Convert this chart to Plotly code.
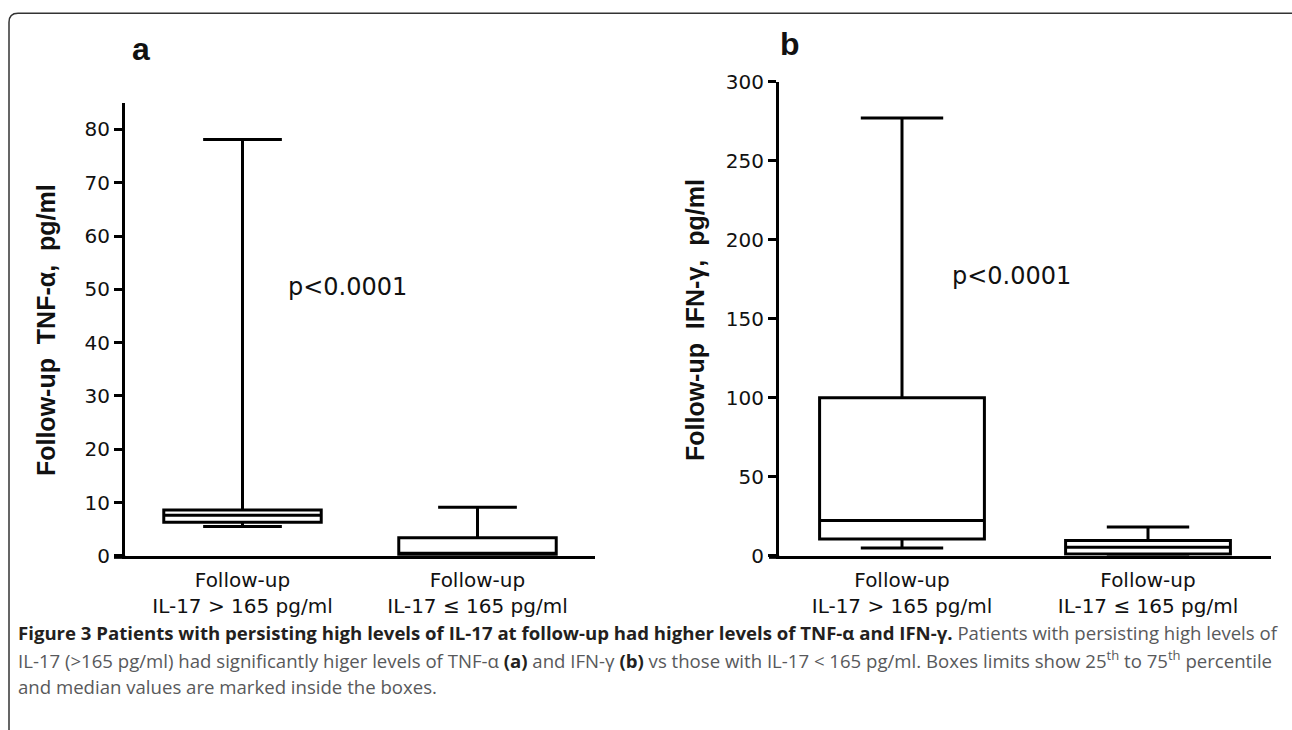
import plotly.graph_objects as go

W, H = 1292, 730

# ---- data ----
categories = ["Follow-up<br>IL-17 > 165 pg/ml", "Follow-up<br>IL-17 \u2264 165 pg/ml"]
tnf_lower = [5.5, 0.0]
tnf_q1 = [6.3, 0.2]
tnf_median = [7.6, 0.5]
tnf_q3 = [8.6, 3.4]
tnf_upper = [78.1, 9.1]

ifn_lower = [5.0, 0.5]
ifn_q1 = [10.7, 1.2]
ifn_median = [22.3, 5.5]
ifn_q3 = [100.0, 9.7]
ifn_upper = [277.0, 18.3]

tnf_ticks = [0, 10, 20, 30, 40, 50, 60, 70, 80]
ifn_ticks = [0, 50, 100, 150, 200, 250, 300]
p_text = "p<0.0001"

# vertical placement correction (page is photographed slightly squeezed)
OFF, SC = 12.3, 0.966


def px(x):
    return x / W


def py(y):
    """target picture y (px from top) -> paper fraction"""
    return 1 - ((y - OFF) / SC) / H


fig = go.Figure()
xpos = [0, 1]
box_style = dict(fillcolor="white", line=dict(color="black", width=3),
                 width=0.67, whiskerwidth=0.5, boxpoints=False,
                 showlegend=False, hoverinfo="skip")

fig.add_trace(go.Box(x=xpos, q1=tnf_q1, median=tnf_median, q3=tnf_q3,
                     lowerfence=tnf_lower, upperfence=tnf_upper,
                     xaxis="x", yaxis="y", **box_style))
fig.add_trace(go.Box(x=xpos, q1=ifn_q1, median=ifn_median, q3=ifn_q3,
                     lowerfence=ifn_lower, upperfence=ifn_upper,
                     xaxis="x2", yaxis="y2", **box_style))

tick_font = dict(family="DejaVu Sans, Arial, sans-serif", size=20, color="#111")
xax = dict(range=[-0.5, 1.5], tickvals=xpos, ticktext=categories, showline=True,
           linewidth=3, linecolor="black", ticks="outside", ticklen=4, tickcolor="rgba(0,0,0,0)",
           showgrid=False, zeroline=False, tickfont=tick_font, fixedrange=True)
yax = dict(showline=True, linewidth=3, linecolor="black", ticks="outside",
           ticklen=8, tickwidth=3, tickcolor="black", showgrid=False,
           zeroline=False, tickfont=tick_font, fixedrange=True)

fig.update_layout(
    width=W, height=H, margin=dict(l=0, r=0, t=0, b=0), autosize=False,
    paper_bgcolor="white", plot_bgcolor="rgba(0,0,0,0)",
    xaxis=dict(domain=[px(125), px(595)], anchor="y", **xax),
    yaxis=dict(domain=[py(555.5), py(103)], range=[0, 85], tickvals=tnf_ticks,
               anchor="x", **yax),
    xaxis2=dict(domain=[px(779), px(1271)], anchor="y2", **xax),
    yaxis2=dict(domain=[py(555.5), py(82)], range=[0, 300], tickvals=ifn_ticks,
                anchor="x2", **yax),
)

# short left overhang of the x axis lines, as in the original figure
for xa, xb in [(114, 126), (769, 780)]:
    fig.add_shape(type="line", xref="paper", yref="paper", x0=px(xa), x1=px(xb),
                  y0=py(557), y1=py(557), line=dict(color="black", width=3))

lab_font = dict(color="#111")
ctr = dict(xref="paper", yref="paper", xanchor="center", yanchor="middle", showarrow=False)
ann = []
ann.append(dict(text="<b>a</b>", x=px(141), y=py(49),
                font=dict(size=32, family="Liberation Sans, Arial, sans-serif", **lab_font), **ctr))
ann.append(dict(text="<b>b</b>", x=px(790), y=py(44),
                font=dict(size=32, family="Liberation Sans, Arial, sans-serif", **lab_font), **ctr))
nb = "\u00a0"
ann.append(dict(text="<b>Follow-up" + nb * 2 + "TNF-\u03b1," + nb * 2 + "pg/ml</b>",
                x=px(46), y=py(330), textangle=-90,
                font=dict(size=25, family="Liberation Sans, Arial, sans-serif", **lab_font), **ctr))
ann.append(dict(text="<b>Follow-up" + nb * 2 + "IFN-\u03b3," + nb * 2 + "pg/ml</b>",
                x=px(695), y=py(320), textangle=-90,
                font=dict(size=25, family="Liberation Sans, Arial, sans-serif", **lab_font), **ctr))
ann.append(dict(text=p_text, x=px(347), y=py(287),
                font=dict(size=24, family="DejaVu Sans, sans-serif", **lab_font), **ctr))
ann.append(dict(text=p_text, x=px(1011), y=py(276),
                font=dict(size=24, family="DejaVu Sans, sans-serif", **lab_font), **ctr))

cap_font = dict(family="Open Sans, Noto Sans, sans-serif", size=18.6, color="#58595b")
dark = "<span style='color:#231f20'><b>{}</b></span>"
line1 = (dark.format("Figure 3 Patients with persisting high levels of IL-17 at follow-up had higher levels of TNF-\u03b1 and IFN-\u03b3.")
         + " Patients with persisting high levels of")
line2 = ("IL-17 (>165 pg/ml) had significantly higer levels of TNF-\u03b1 " + dark.format("(a)")
         + " and IFN-\u03b3 " + dark.format("(b)")
         + " vs those with IL-17 < 165 pg/ml. Boxes limits show 25<sup>th</sup> to 75<sup>th</sup> percentile")
line3 = "and median values are marked inside the boxes."
for t, yy in [(line1, 632), (line2, 659), (line3, 686)]:
    ann.append(dict(text=t, x=px(16), y=py(yy), xref="paper", yref="paper",
                    xanchor="left", yanchor="middle", showarrow=False, font=cap_font))
fig.update_layout(annotations=ann)

# rounded frame (top/left visible; right and bottom run off the picture)
fx0, fx1, r = 9, 1300, 9
fy0, fy1 = 13.5, 745
path = (f"M {px(fx1)},{py(fy0)} L {px(fx0 + r)},{py(fy0)} Q {px(fx0)},{py(fy0)} {px(fx0)},{py(fy0 + r)} "
        f"L {px(fx0)},{py(fy1 - r)} Q {px(fx0)},{py(fy1)} {px(fx0 + r)},{py(fy1)} L {px(fx1)},{py(fy1)}")
fig.add_shape(type="path", path=path, xref="paper", yref="paper",
              line=dict(color="#333", width=1.5))

post = ("document.documentElement.style.margin='0';document.body.style.margin='0';"
        "document.body.style.padding='0';document.documentElement.style.overflow='hidden';"
        "var d=document.getElementById('{plot_id}');d.style.position='fixed';"
        "d.style.left='0px';d.style.top='0px';")
fig.write_html("out.html", post_script=post, config={"displayModeBar": False})
